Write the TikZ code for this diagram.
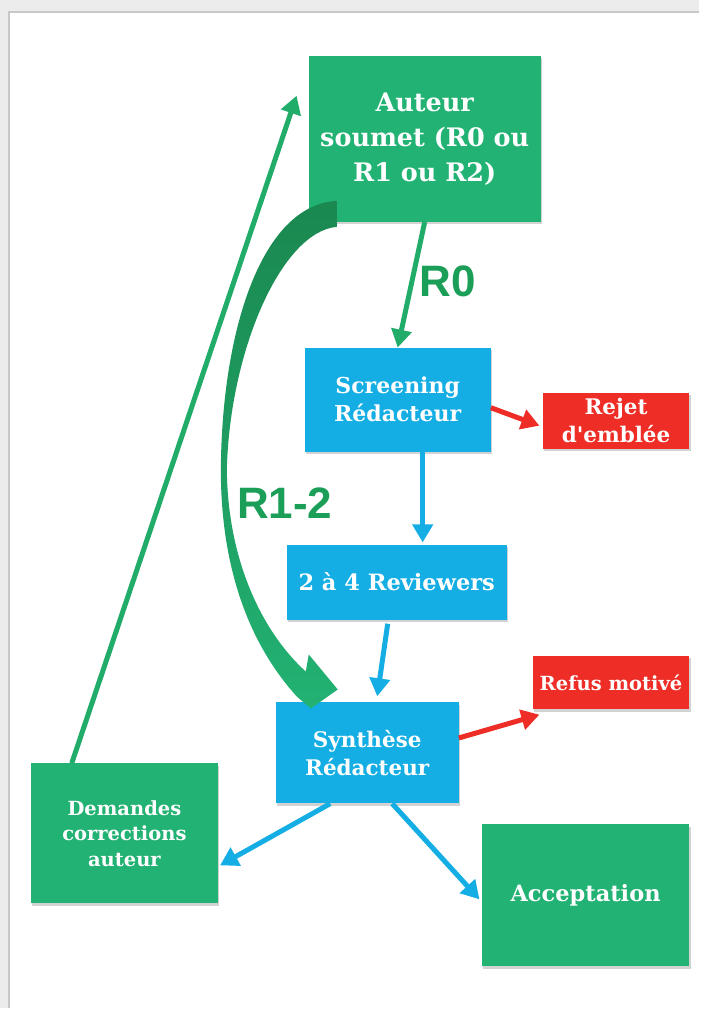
\documentclass[tikz,border=0pt]{standalone}
\usepackage{fontspec}
\setmainfont{DejaVu Serif}
\newfontfamily\labelfont{Liberation Sans}
\usetikzlibrary{arrows.meta,calc,shadows}

\definecolor{boxgreen}{RGB}{34,178,115}
\definecolor{boxblue}{RGB}{20,174,229}
\definecolor{boxred}{RGB}{237,45,38}
\definecolor{labelgreen}{RGB}{27,158,87}
\definecolor{curvedark}{RGB}{26,136,80}
\definecolor{arrowgreen}{RGB}{33,172,106}
\definecolor{pagegray}{RGB}{236,236,236}
\definecolor{framegray}{RGB}{200,200,200}

\begin{document}
\begin{tikzpicture}[x=1pt,y=-1pt,
      stepbox/.style={rectangle, inner sep=0pt, text=white, align=center,
        font=\bfseries, drop shadow={shadow xshift=1.5pt, shadow yshift=-2.5pt, opacity=0.35}},
      greenbox/.style={stepbox, fill=boxgreen},
      bluebox/.style={stepbox, fill=boxblue},
      redbox/.style={stepbox, fill=boxred},
      flow/.style={line width=5pt, -{Triangle[length=18pt, width=20pt]}},
      bigtag/.style={text=labelgreen, font=\labelfont\bfseries\fontsize{44}{44}\selectfont}]

    % page
    \fill[pagegray] (0,0) rectangle (700,1009);
    \fill[white] (9,12) rectangle (700,1009);
    \draw[framegray, line width=1.5pt] (9,1009) -- (9,12) -- (700,12);
    \useasboundingbox (0,0) rectangle (700,1009);

    \node[greenbox, minimum width=232, minimum height=166,
      font=\bfseries\fontsize{25.5}{35}\selectfont] (auteur) at (425,139)
      {Auteur\\soumet (R0 ou\\R1 ou R2)};
    \node[bluebox, minimum width=186, minimum height=104,
      font=\bfseries\fontsize{22}{28}\selectfont] (screen) at (398,400)
      {Screening\\R\'edacteur};
    \node[redbox, minimum width=147, minimum height=56,
      font=\bfseries\fontsize{21.5}{28}\selectfont] (rejet) at (616.5,421)
      {Rejet\\d\textquotesingle embl\'ee};
    \node[bluebox, minimum width=220, minimum height=75,
      font=\bfseries\fontsize{22.5}{28}\selectfont] (review) at (397,582.5)
      {2 \`a 4 Reviewers};
    \node[redbox, minimum width=157, minimum height=54,
      font=\bfseries\fontsize{19.5}{24}\selectfont] (refus) at (611.5,683)
      {Refus motiv\'e};
    \node[bluebox, minimum width=183, minimum height=101,
      font=\bfseries\fontsize{21.5}{28}\selectfont] (synth) at (367.5,753.5)
      {Synth\`ese\\R\'edacteur};
    \node[greenbox, minimum width=187, minimum height=140,
      font=\bfseries\fontsize{19.5}{25.5}\selectfont] (demande) at (124.5,834)
      {Demandes\\corrections\\auteur};
    \node[greenbox, minimum width=208, minimum height=142,
      font=\bfseries\fontsize{22.5}{28}\selectfont] (accept) at (586,896)
      {Acceptation};

    % curved R1-2 arrow
    \shade[top color=curvedark, bottom color=boxgreen, middle color=curvedark!50!boxgreen]
      (337,201) -- (337,227)
      .. controls (282,232) and (230,350) .. (227,470)
      .. controls (228,565) and (265,635) .. (306,672)
      -- (309,655) -- (338,690) -- (311,709) -- (297,697)
      .. controls (250,645) and (221,570) .. (221,470)
      .. controls (222,330) and (262,205) .. (337,201) -- cycle;

    \node[bigtag] (tagr0) at (448,282) {R0};
    \node[bigtag] (tagr12) at (285,504) {R1-2};

    \draw[flow, arrowgreen] (auteur.south) -- (screen.north);
    \draw[flow, arrowgreen] ($(demande.north west)+(41,0)$) -- ($(auteur.north west)+(-12,40)$);

    \draw[flow, boxblue] ($(screen.south)+(25,0)$) -- ($(review.north)+(26,-2)$);
    \draw[flow, boxblue] ($(review.south)+(-9,4)$) -- ($(synth.north)+(10,-6)$);
    \draw[flow, boxblue] ($(synth.south)+(-37,0)$) -- ($(demande.east)+(2,32)$);
    \draw[flow, boxblue] ($(synth.south)+(25,0)$) -- ($(accept.west)+(-2,4)$);

    \draw[flow, boxred] ($(screen.east)+(0,8)$) -- ($(rejet.west)+(-3,5)$);
    \draw[flow, boxred] ($(synth.east)+(0,-15)$) -- ($(refus.south west)+(7,5)$);

  \end{tikzpicture}
\end{document}
